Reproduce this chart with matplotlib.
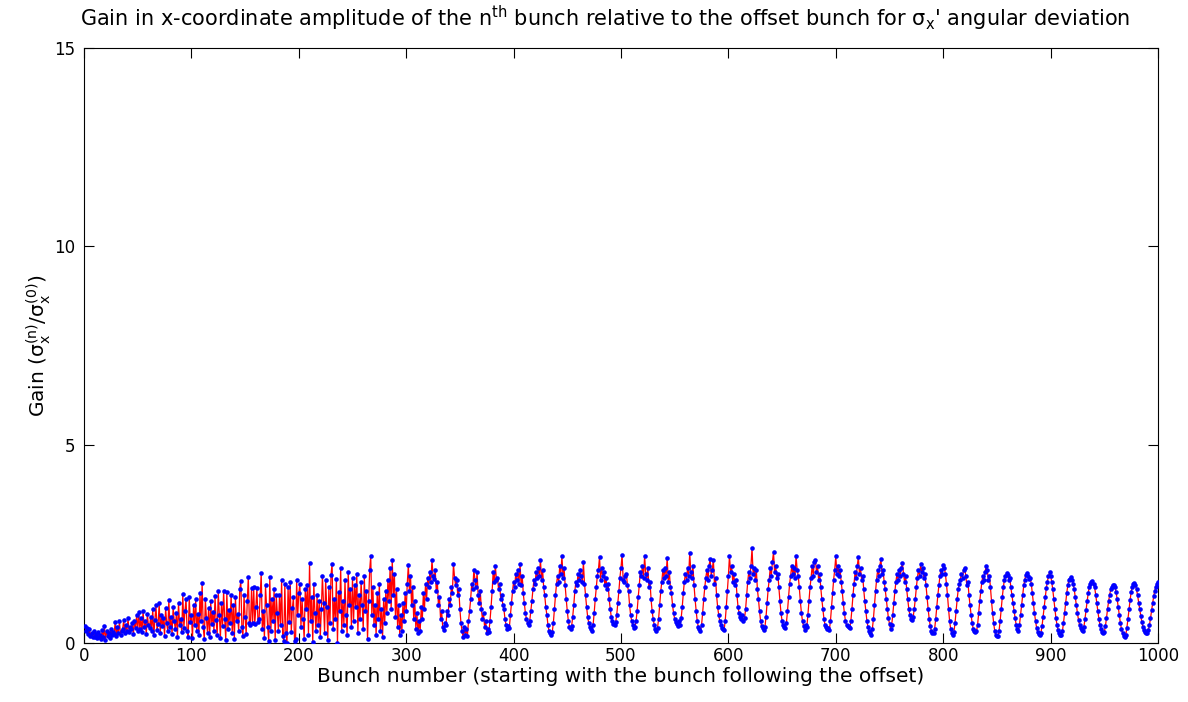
import numpy as np
import matplotlib
matplotlib.use("Agg")
import matplotlib.pyplot as plt

# Gain values for bunches 1..1000, in blocks of 50
g01 = [0.42, 0.30, 0.38, 0.22, 0.35, 0.18, 0.26, 0.15, 0.30, 0.14,
       0.22, 0.12, 0.28, 0.16, 0.20, 0.10, 0.34, 0.14, 0.42, 0.08,
       0.30, 0.18, 0.24, 0.12, 0.36, 0.20, 0.28, 0.22, 0.52, 0.18,
       0.40, 0.24, 0.55, 0.20, 0.30, 0.36, 0.58, 0.25, 0.45, 0.30,
       0.62, 0.28, 0.40, 0.35, 0.50, 0.22, 0.55, 0.38, 0.70, 0.30]
g02 = [0.78, 0.35, 0.62, 0.28, 0.80, 0.40, 0.55, 0.22, 0.72, 0.45,
       0.38, 0.66, 0.30, 0.85, 0.20, 0.58, 0.96, 0.34, 0.48, 1.00,
       0.25, 0.70, 0.42, 0.62, 0.18, 0.88, 0.50, 0.30, 1.08, 0.40,
       0.65, 0.22, 0.90, 0.55, 0.35, 0.75, 0.15, 1.02, 0.46, 0.60,
       0.28, 1.24, 0.38, 0.80, 1.12, 0.30, 0.14, 1.15, 0.52, 0.70]
g03 = [0.12, 0.95, 0.45, 1.10, 0.30, 0.72, 0.20, 1.25, 0.55, 1.51,
       0.40, 0.10, 1.10, 0.62, 0.25, 0.88, 0.15, 1.05, 0.48, 0.78,
       0.30, 1.18, 0.58, 0.20, 1.30, 0.70, 0.12, 1.00, 0.42, 1.32,
       0.60, 0.08, 1.28, 0.35, 0.82, 0.50, 1.22, 0.25, 0.95, 0.10,
       1.15, 0.55, 0.72, 0.30, 1.35, 1.56, 0.40, 0.18, 1.20, 0.65]
g04 = [0.22, 1.05, 1.67, 0.50, 0.45, 1.38, 0.50, 1.41, 0.48, 0.90,
       1.39, 0.52, 0.60, 1.20, 1.76, 0.35, 0.80, 0.12, 1.45, 0.95,
       0.40, 0.05, 1.67, 0.30, 1.10, 0.55, 1.35, 0.08, 1.20, 0.75,
       0.30, 1.20, 0.45, 1.58, 0.18, 0.05, 1.50, 0.25, 0.00, 1.40,
       0.52, 1.55, 0.28, 0.88, 1.15, 0.05, 0.10, 1.60, 0.70, 1.25]
g05 = [1.50, 0.40, 1.10, 0.60, 0.10, 1.35, 0.85, 1.45, 0.20, 2.01,
       0.55, 1.15, 0.02, 1.48, 0.75, 0.30, 1.20, 0.45, 1.05, 0.15,
       0.85, 1.70, 1.00, 0.25, 1.60, 0.90, 0.08, 1.40, 0.50, 1.72,
       2.00, 0.35, 1.10, 0.60, 1.62, 0.00, 1.28, 0.80, 1.90, 0.30,
       1.05, 0.45, 1.58, 0.70, 0.20, 1.80, 0.95, 1.35, 0.40, 1.65]
g06 = [0.55, 1.45, 0.90, 1.75, 0.25, 1.20, 0.60, 1.55, 0.95, 0.35,
       1.68, 0.80, 1.30, 0.10, 1.05, 1.85, 2.20, 0.70, 1.40, 0.45,
       0.95, 0.20, 1.25, 0.60, 1.50, 0.30, 0.85, 0.15, 1.10, 0.50,
       1.30, 0.75, 1.60, 1.05, 1.90, 0.85, 2.10, 1.20, 1.75, 0.65,
       1.35, 0.40, 0.95, 0.20, 0.70, 0.30, 1.00, 0.55, 1.25, 0.80]
g07 = [1.50, 1.97, 1.30, 1.70, 0.95, 1.40, 0.60, 1.05, 0.35, 0.75,
       0.25, 0.55, 0.30, 0.90, 0.60, 1.25, 0.85, 1.50, 1.10, 1.65,
       1.40, 1.80, 1.55, 2.09, 1.70, 1.62, 1.85, 1.30, 1.55, 0.95,
       1.15, 0.60, 0.80, 0.40, 0.33, 0.50, 0.45, 0.80, 0.70, 1.10,
       0.95, 1.40, 1.25, 2.00, 1.65, 1.45, 1.60, 1.20, 1.35, 0.85]
g08 = [0.50, 0.30, 0.15, 0.40, 0.20, 0.35, 0.18, 0.55, 0.80, 1.10,
       1.50, 1.35, 1.85, 1.60, 1.40, 1.78, 1.20, 1.00, 1.30, 0.85,
       0.60, 0.75, 0.40, 0.55, 0.25, 0.35, 0.28, 0.55, 0.90, 1.30,
       1.80, 1.55, 1.95, 1.60, 1.65, 1.35, 1.50, 1.10, 1.20, 0.95,
       0.85, 0.60, 0.45, 0.35, 0.42, 0.38, 0.70, 1.00, 1.30, 1.55]
g09 = [1.40, 1.75, 1.60, 1.85, 1.50, 1.99, 1.45, 1.70, 1.25, 1.00,
       0.75, 0.60, 0.50, 0.45, 0.55, 0.80, 1.05, 1.35, 1.60, 1.50,
       1.80, 1.65, 1.90, 1.70, 2.10, 1.60, 1.85, 1.40, 1.20, 0.90,
       0.70, 0.45, 0.30, 0.25, 0.20, 0.28, 0.50, 0.85, 1.20, 1.50,
       1.70, 1.55, 1.95, 1.75, 2.20, 1.65, 1.90, 1.45, 1.10, 0.80]
g10 = [0.55, 0.40, 0.35, 0.42, 0.65, 0.95, 1.30, 1.55, 1.45, 1.75,
       1.60, 1.85, 1.70, 1.55, 2.03, 1.50, 1.20, 0.90, 0.65, 0.50,
       0.40, 0.35, 0.30, 0.45, 0.75, 1.10, 1.40, 1.70, 1.85, 2.17,
       1.60, 1.90, 1.70, 1.80, 1.45, 1.65, 1.35, 1.50, 1.10, 0.85,
       0.65, 0.55, 0.48, 0.45, 0.52, 0.70, 1.00, 1.30, 1.65, 1.90]
g11 = [2.22, 1.60, 1.55, 1.70, 1.75, 1.45, 1.30, 0.95, 0.70, 0.55,
       0.45, 0.38, 0.40, 0.55, 0.80, 1.15, 1.45, 1.80, 1.70, 1.95,
       1.65, 2.20, 1.75, 1.60, 1.90, 1.40, 1.55, 1.10, 0.80, 0.60,
       0.45, 0.35, 0.30, 0.38, 0.60, 0.95, 1.30, 1.55, 1.85, 1.65,
       1.90, 1.70, 2.15, 1.55, 1.80, 1.40, 1.25, 0.95, 0.75, 0.60]
g12 = [0.52, 0.48, 0.42, 0.55, 0.45, 0.62, 0.90, 1.25, 1.55, 1.75,
       1.60, 1.90, 1.70, 2.27, 1.80, 1.65, 1.95, 1.45, 1.10, 0.80,
       0.55, 0.40, 0.35, 0.30, 0.45, 0.75, 1.10, 1.40, 1.65, 1.85,
       1.60, 1.95, 2.12, 1.70, 1.85, 2.10, 1.50, 1.65, 1.20, 0.90,
       0.70, 0.55, 0.45, 0.38, 0.35, 0.33, 0.55, 0.90, 1.30, 1.70]
g13 = [2.20, 1.80, 1.95, 1.55, 1.75, 1.45, 1.60, 1.20, 0.90, 0.75,
       0.65, 0.60, 0.70, 0.55, 0.62, 0.85, 1.20, 1.55, 1.80, 1.65,
       1.95, 2.39, 1.75, 1.90, 1.60, 1.85, 1.35, 1.10, 0.80, 0.55,
       0.42, 0.38, 0.33, 0.40, 0.65, 1.00, 1.35, 1.60, 1.90, 1.70,
       2.05, 2.29, 1.80, 1.95, 1.65, 1.75, 1.40, 1.05, 0.75, 0.55]
g14 = [0.45, 0.40, 0.38, 0.50, 0.80, 1.15, 1.50, 1.70, 1.95, 1.75,
       1.90, 1.65, 2.20, 1.85, 1.70, 1.40, 1.05, 0.75, 0.55, 0.42,
       0.33, 0.45, 0.40, 0.70, 1.05, 1.40, 1.65, 1.95, 1.70, 2.05,
       2.10, 1.80, 1.95, 1.60, 1.75, 1.40, 1.10, 0.85, 0.60, 0.45,
       0.40, 0.35, 0.38, 0.33, 0.55, 0.90, 1.25, 1.60, 1.85, 2.19]
g15 = [1.75, 1.95, 1.70, 1.85, 1.55, 1.30, 1.00, 0.75, 0.55, 0.45,
       0.42, 0.40, 0.38, 0.55, 0.85, 1.20, 1.50, 1.80, 1.65, 1.95,
       2.17, 1.75, 1.90, 1.60, 1.70, 1.35, 1.05, 0.80, 0.55, 0.40,
       0.30, 0.25, 0.20, 0.35, 0.60, 0.95, 1.30, 1.60, 1.85, 1.70,
       1.95, 2.12, 1.75, 1.85, 1.55, 1.35, 1.10, 0.85, 0.62, 0.48]
g16 = [0.35, 0.45, 0.70, 1.00, 1.30, 1.55, 1.75, 1.60, 1.85, 1.70,
       1.90, 2.01, 1.75, 1.55, 1.70, 1.35, 1.10, 0.85, 0.70, 0.60,
       0.58, 0.65, 0.85, 1.10, 1.40, 1.65, 1.85, 1.70, 1.98, 1.80,
       1.90, 1.65, 1.75, 1.45, 1.15, 0.85, 0.60, 0.42, 0.30, 0.24,
       0.25, 0.35, 0.60, 0.90, 1.20, 1.45, 1.70, 1.85, 1.75, 1.96]
g17 = [1.90, 1.75, 1.50, 1.20, 0.85, 0.55, 0.35, 0.25, 0.20, 0.28,
       0.50, 0.80, 1.10, 1.35, 1.50, 1.60, 1.75, 1.65, 1.85, 1.89,
       1.70, 1.45, 1.55, 1.20, 0.95, 0.70, 0.50, 0.35, 0.30, 0.28,
       0.30, 0.45, 0.75, 1.05, 1.30, 1.55, 1.70, 1.60, 1.80, 1.93,
       1.85, 1.60, 1.70, 1.40, 1.05, 0.75, 0.50, 0.30, 0.20, 0.17]
g18 = [0.18, 0.30, 0.55, 0.85, 1.15, 1.40, 1.60, 1.70, 1.76, 1.72,
       1.60, 1.65, 1.40, 1.20, 1.00, 0.80, 0.62, 0.45, 0.35, 0.30,
       0.45, 0.70, 0.95, 1.20, 1.45, 1.60, 1.72, 1.76, 1.70, 1.62,
       1.65, 1.50, 1.25, 1.00, 0.75, 0.55, 0.38, 0.28, 0.22, 0.20,
       0.25, 0.42, 0.65, 0.90, 1.15, 1.38, 1.55, 1.68, 1.78, 1.70]
g19 = [1.55, 1.35, 1.10, 0.85, 0.62, 0.45, 0.32, 0.25, 0.20, 0.20,
       0.30, 0.50, 0.75, 1.00, 1.25, 1.45, 1.58, 1.62, 1.66, 1.60,
       1.50, 1.35, 1.15, 0.95, 0.75, 0.58, 0.45, 0.38, 0.32, 0.30,
       0.40, 0.60, 0.82, 1.05, 1.25, 1.42, 1.50, 1.54, 1.56, 1.50,
       1.40, 1.22, 1.00, 0.80, 0.60, 0.45, 0.35, 0.28, 0.25, 0.28]
g20 = [0.42, 0.62, 0.85, 1.05, 1.22, 1.35, 1.42, 1.46, 1.45, 1.40,
       1.28, 1.10, 0.90, 0.70, 0.50, 0.35, 0.25, 0.18, 0.15, 0.20,
       0.38, 0.60, 0.85, 1.08, 1.28, 1.42, 1.50, 1.51, 1.45, 1.35,
       1.20, 1.02, 0.85, 0.68, 0.52, 0.40, 0.32, 0.28, 0.25, 0.25,
       0.32, 0.45, 0.62, 0.82, 1.00, 1.18, 1.32, 1.42, 1.50, 1.54]

gain = np.array(g01 + g02 + g03 + g04 + g05 + g06 + g07 + g08 + g09 + g10 +
                g11 + g12 + g13 + g14 + g15 + g16 + g17 + g18 + g19 + g20)
bunch = np.arange(1, len(gain) + 1)

x_ticks = [0, 100, 200, 300, 400, 500, 600, 700, 800, 900, 1000]
y_ticks = [0, 5, 10, 15]

plt.rcParams['font.family'] = ['DejaVu Sans']
plt.rcParams['mathtext.fontset'] = 'dejavusans'

fig = plt.figure(figsize=(11.88, 7.02), dpi=100)
ax = fig.add_axes([84/1188, 59/702, (1158-84)/1188, (643-48)/702])

ax.plot(bunch, gain, color='#ff0000', lw=0.9, zorder=2)
ax.plot(bunch, gain, ls='none', marker='o', ms=3.3, mfc='#0000ff',
        mec='#0000ff', mew=0, zorder=3)

ax.set_xlim(0, 1000)
ax.set_ylim(0, 15)
ax.set_xticks(x_ticks)
ax.set_yticks(y_ticks)
ax.tick_params(direction='in', length=7, width=0.8, top=True, right=True,
               labelsize=12, colors='black')
ax.tick_params(axis='x', pad=3)
ax.tick_params(axis='y', pad=6)
for s in ax.spines.values():
    s.set_linewidth(0.8)

ax.set_xlabel('Bunch number (starting with the bunch following the offset)',
              fontsize=14.5, labelpad=1)
ax.set_ylabel(r'Gain ($\mathregular{\sigma_x^{(n)}/\sigma_x^{(0)}}$)', fontsize=14.5, labelpad=1)
ax.set_title(r"Gain in x-coordinate amplitude of the n$\mathregular{^{th}}$ bunch relative to the offset bunch for $\mathregular{\sigma_x}$' angular deviation",
             fontsize=15, pad=16, x=0.485)

fig.savefig('out.png', dpi=100, facecolor='white')
